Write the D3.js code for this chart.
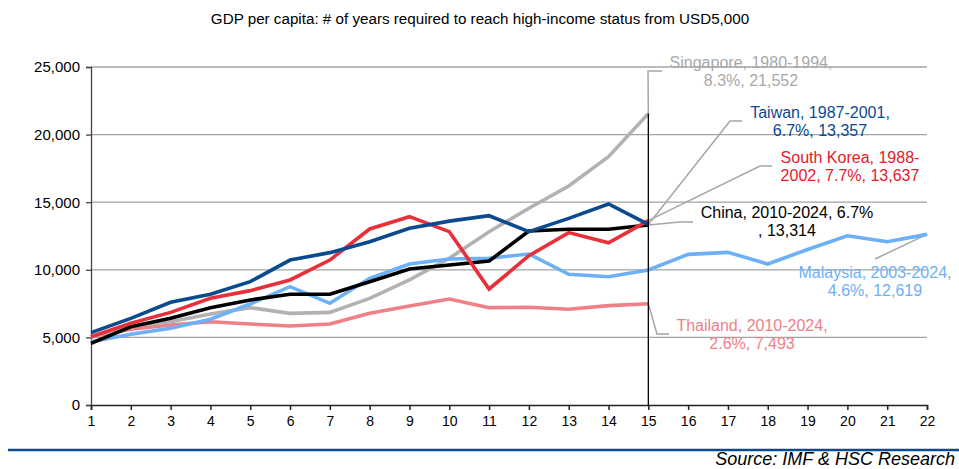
<!DOCTYPE html>
<html>
<head>
<meta charset="utf-8">
<script src="https://cdn.jsdelivr.net/npm/d3@7"></script>
<style>
  html, body { margin: 0; padding: 0; background: #fff; }
  svg { display: block; font-family: "Liberation Sans", Arial, sans-serif; }
</style>
</head>
<body>
<svg id="chart" width="959" height="469"></svg>
<script>
// Years elapsed since each economy crossed USD5,000 GDP per capita
const years = d3.range(1, 23);
const yTicks = [0, 5000, 10000, 15000, 20000, 25000];

const singapore   = [5050, 5840, 6160, 6730, 7200, 6780, 6850, 7890, 9250, 10850, 12820, 14550, 16200, 18370, 21552];
const taiwan      = [5350, 6410, 7600, 8190, 9120, 10720, 11270, 12080, 13070, 13600, 14000, 12820, 13800, 14870, 13357];
const southKorea  = [5050, 6040, 6850, 7890, 8460, 9250, 10720, 13020, 13930, 12820, 8580, 11040, 12750, 12000, 13637];
const china       = [4560, 5790, 6410, 7200, 7770, 8190, 8190, 9120, 10060, 10350, 10650, 12870, 13000, 13000, 13314];
const malaysia    = [4680, 5230, 5670, 6340, 7470, 8750, 7520, 9370, 10430, 10800, 10850, 11170, 9670, 9490, 9990, 11140, 11290, 10430, 11500, 12520, 12080, 12619];
const thailand    = [5050, 5600, 5920, 6160, 5990, 5840, 5990, 6780, 7320, 7840, 7200, 7230, 7080, 7350, 7493];

const labelLines = {
  singapore:  ["Singapore, 1980-1994,", "8.3%, 21,552"],
  taiwan:     ["Taiwan, 1987-2001,", "6.7%, 13,357"],
  southKorea: ["South Korea, 1988-", "2002, 7.7%, 13,637"],
  china:      ["China, 2010-2024, 6.7%", ", 13,314"],
  malaysia:   ["Malaysia, 2003-2024,", "4.6%, 12,619"],
  thailand:   ["Thailand, 2010-2024,", "2.6%, 7,493"]
};

const series = [
  { key: "thailand",   values: thailand,   color: "#f08087", text: "#f08087" },
  { key: "singapore",  values: singapore,  color: "#b3b1b1", text: "#a9a9a9" },
  { key: "malaysia",   values: malaysia,   color: "#6db0f6", text: "#6db0f6" },
  { key: "china",      values: china,      color: "#000000", text: "#000000" },
  { key: "southKorea", values: southKorea, color: "#e8303a", text: "#e3202b" },
  { key: "taiwan",     values: taiwan,     color: "#0c4a8e", text: "#0c4a8e" }
];

// Label placement: text centre / first baseline, and the leader elbow + tail
const labelLayout = {
  singapore:  { cx: 751, y0: 68,  elbow: [648, 71],  tail: [662, 71] },
  taiwan:     { cx: 820, y0: 118, elbow: [730, 121], tail: [742, 121] },
  southKorea: { cx: 850, y0: 163, elbow: [760, 166], tail: [772, 166] },
  china:      { cx: 787, y0: 218, elbow: [680, 222], tail: [693, 222] },
  malaysia:   { cx: 875, y0: 278, elbow: [875, 259], tail: null },
  thailand:   { cx: 752, y0: 331, elbow: [657, 334], tail: [669, 334] }
};

const svg = d3.select("#chart");
const x = d3.scaleLinear().domain([1, 22]).range([91, 927]);
const y = d3.scaleLinear().domain([0, 25000]).range([405, 67]);

// Title
svg.append("text")
  .attr("x", 480).attr("y", 24)
  .attr("text-anchor", "middle")
  .attr("font-size", 15.2)
  .attr("fill", "#000")
  .text("GDP per capita: # of years required to reach high-income status from USD5,000");

// Horizontal gridlines
svg.append("g")
  .selectAll("line")
  .data(yTicks.filter(d => d > 0))
  .join("line")
  .attr("x1", x(1)).attr("x2", x(22))
  .attr("y1", d => y(d)).attr("y2", d => y(d))
  .attr("stroke", "#a3a3a3")
  .attr("stroke-width", 1.3);

// Y axis
const yAxis = svg.append("g")
  .attr("transform", `translate(${x(1)},0)`)
  .call(d3.axisLeft(y).tickValues(yTicks).tickSize(5).tickPadding(6).tickFormat(d3.format(",")));
yAxis.select(".domain").attr("stroke", "#444").attr("stroke-width", 1.3);
yAxis.selectAll(".tick line").attr("stroke", "#444").attr("stroke-width", 1.3);
yAxis.selectAll(".tick text").attr("font-size", 15).attr("font-family", "Liberation Sans, Arial, sans-serif").attr("fill", "#000");

// X axis
const xAxis = svg.append("g")
  .attr("transform", `translate(0,${y(0)})`)
  .call(d3.axisBottom(x).tickValues(years).tickSize(5).tickPadding(6).tickFormat(d3.format("d")));
xAxis.select(".domain").attr("stroke", "#222").attr("stroke-width", 1.5);
xAxis.selectAll(".tick line").attr("stroke", "#222").attr("stroke-width", 1.5);
xAxis.selectAll(".tick text").attr("font-size", 14).attr("font-family", "Liberation Sans, Arial, sans-serif").attr("fill", "#000");

const line = d3.line()
  .x((d, i) => x(years[i]))
  .y(d => y(d));

// Leader lines from each series endpoint to its label
const leaders = svg.append("g");
series.forEach(s => {
  const last = s.values.length - 1;
  const L = labelLayout[s.key];
  const pts = [[x(years[last]), y(s.values[last])], L.elbow];
  if (L.tail) pts.push(L.tail);
  leaders.append("path")
    .attr("d", d3.line()(pts))
    .attr("fill", "none")
    .attr("stroke", "#a6a6a6")
    .attr("stroke-width", 1.5);
});

// Series lines
svg.append("g")
  .selectAll("path")
  .data(series)
  .join("path")
  .attr("d", d => line(d.values))
  .attr("fill", "none")
  .attr("stroke", d => d.color)
  .attr("stroke-width", 3.6)
  .attr("stroke-linejoin", "miter");

// Vertical marker at year 15 up to the highest endpoint
svg.append("line")
  .attr("x1", x(15)).attr("x2", x(15))
  .attr("y1", y(0)).attr("y2", y(singapore[14]))
  .attr("stroke", "#000")
  .attr("stroke-width", 1.3);

// Labels
const labels = svg.append("g");
series.forEach(s => {
  const L = labelLayout[s.key];
  const t = labels.append("text")
    .attr("text-anchor", "middle")
    .attr("font-size", 16)
    .attr("fill", s.text);
  labelLines[s.key].forEach((txt, i) => {
    t.append("tspan").attr("x", L.cx).attr("y", L.y0 + i * 17.8).text(txt);
  });
});

// Footer rule and source
svg.append("line")
  .attr("x1", 8).attr("x2", 959)
  .attr("y1", 450).attr("y2", 450)
  .attr("stroke", "#0c4a8e")
  .attr("stroke-width", 2.5);

svg.append("text")
  .attr("x", 955).attr("y", 465)
  .attr("text-anchor", "end")
  .attr("font-size", 18)
  .attr("font-style", "italic")
  .attr("fill", "#000")
  .text("Source: IMF & HSC Research");
</script>
</body>
</html>
